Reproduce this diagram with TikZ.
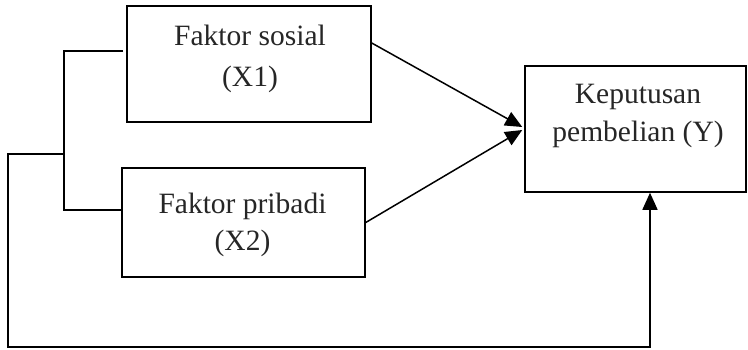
\documentclass[tikz,border=0pt]{standalone}
\usepackage{fontspec}
\setmainfont{Liberation Serif}
\usetikzlibrary{arrows.meta}

\tikzset{
  box/.style={draw, line width=1.5pt, inner sep=0pt},
  wire/.style={line width=1.5pt},
  arr/.style={wire, -{Triangle[length=17pt,width=15pt]}},
  lbl/.style={anchor=base, inner sep=0pt, font=\fontsize{29.5}{35}\selectfont, text=black!85}
}

\begin{document}
\begin{tikzpicture}[x=1pt, y=1pt]
  \useasboundingbox (0,0) rectangle (748,-349);

  % boxes
  \node[box, minimum width=244pt, minimum height=116pt] (x1) at (249,-64) {};
  \node[box, minimum width=243pt, minimum height=109pt] (x2) at (243.5,-222.5) {};
  \node[box, minimum width=221pt, minimum height=126pt] (yb) at (635.5,-129) {};

  % box texts
  \node[lbl] (t1a) at (250,-45) {Faktor sosial};
  \node[lbl] (t1b) at (250,-86) {(X1)};
  \node[lbl] (t2a) at (242.5,-213) {Faktor pribadi};
  \node[lbl] (t2b) at (242.5,-250) {(X2)};
  \node[lbl] (tya) at (638,-103) {Keputusan};
  \node[lbl] (tyb) at (638,-141) {pembelian (Y)};

  % bracket joining both factors
  \coordinate (g)  at (123,-51);
  \coordinate (bt) at (64,-51);
  \coordinate (bb) at (64,-210);
  \coordinate (bm) at (64,-154);
  \coordinate (lt) at (8,-154);
  \coordinate (lb) at (8,-347);
  \coordinate (rb) at (650,-347);

  \draw[wire] (g) -- (bt) -- (bb) -- ([yshift=12.5pt]x2.west);
  \draw[arr] (bm) -- (lt) -- (lb) -- (rb) -- (rb |- yb.south);

  % direct influences
  \draw[arr] ([yshift=21pt]x1.east) -- ([xshift=-2pt,yshift=2pt]yb.west);
  \draw[arr] (x2.east) -- ([xshift=-2pt,yshift=-1pt]yb.west);
\end{tikzpicture}
\end{document}
